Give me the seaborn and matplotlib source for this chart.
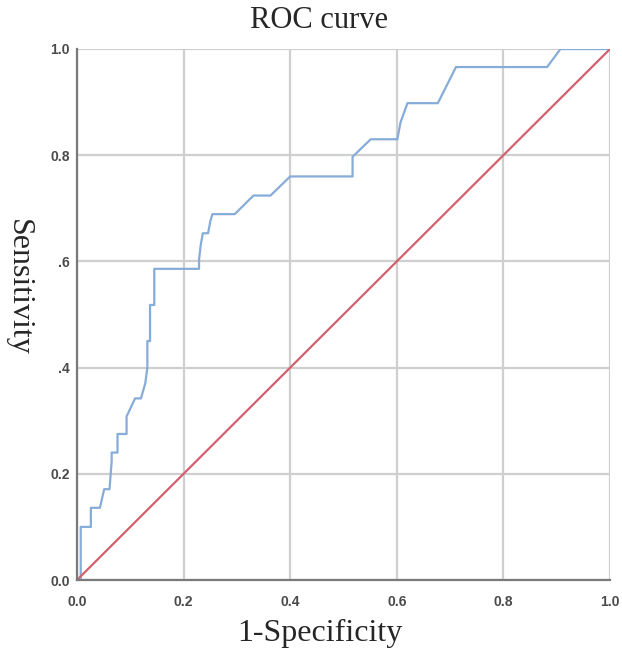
import numpy as np
import pandas as pd
import matplotlib
matplotlib.use("Agg")
import matplotlib.pyplot as plt
import seaborn as sns

# ROC curve vertices
fpr = [0.0, 0.007, 0.007, 0.026, 0.026, 0.043, 0.051, 0.061, 0.065, 0.065, 0.076, 0.076,
       0.093, 0.093, 0.109, 0.120, 0.128, 0.132, 0.132, 0.137, 0.137, 0.145, 0.145,
       0.229, 0.229, 0.232, 0.236, 0.246, 0.250, 0.254, 0.296, 0.331, 0.363, 0.400,
       0.517, 0.517, 0.551, 0.601, 0.607, 0.620, 0.677, 0.711, 0.882, 0.907, 1.0]
tpr = [0.0, 0.0, 0.100, 0.100, 0.136, 0.136, 0.171, 0.171, 0.223, 0.240, 0.240, 0.275,
       0.275, 0.308, 0.342, 0.342, 0.370, 0.400, 0.450, 0.450, 0.518, 0.518, 0.586,
       0.586, 0.603, 0.630, 0.653, 0.653, 0.675, 0.689, 0.689, 0.724, 0.724, 0.760,
       0.760, 0.797, 0.830, 0.830, 0.862, 0.898, 0.898, 0.966, 0.966, 1.0, 1.0]
ref_line = [0.0, 1.0]
ticks = [0.0, 0.2, 0.4, 0.6, 0.8, 1.0]
xtick_labels = ["0.0", "0.2", "0.4", "0.6", "0.8", "1.0"]
ytick_labels = ["0.0", "0.2", ".4", ".6", "0.8", "1.0"]

roc = pd.DataFrame({"fpr": fpr, "tpr": tpr})

sns.set_style("white")
fig = plt.figure(figsize=(6.22, 6.53), dpi=100)
ax = fig.add_axes([77 / 622, 73 / 653, 533 / 622, 531 / 653])

sns.lineplot(data=roc, x="fpr", y="tpr", sort=False, estimator=None,
             color="#86acd8", linewidth=1.6, ax=ax)
sns.lineplot(x=ref_line, y=ref_line, color="#d2606f", linewidth=1.6, ax=ax)

ax.set_xlim(0, 1)
ax.set_ylim(0, 1)
ax.set_xticks(ticks)
ax.set_yticks(ticks)
tick_font = dict(fontsize=10, color="#4a4a4a", family="Liberation Sans", weight="bold")
ax.set_xticklabels(xtick_labels, **tick_font)
ax.set_yticklabels(ytick_labels, **tick_font)
ax.tick_params(length=0)
ax.tick_params(axis="x", pad=11)
ax.tick_params(axis="y", pad=5)
ax.grid(True, color="#cfcfcf", linewidth=1.6)
ax.set_axisbelow(True)

for side in ["top", "right"]:
    ax.spines[side].set_visible(False)
for side in ["left", "bottom"]:
    ax.spines[side].set_color("#7a7a7a")
    ax.spines[side].set_linewidth(1.6)

# titles placed as in the original export (slightly off the axes centre)
fig.text(319 / 622, 1 - 20 / 653, "ROC curve", fontsize=22, family="Liberation Serif",
         ha="center", va="center")
ax.set_xlabel("1-Specificity", fontsize=23, family="Liberation Serif")
ax.xaxis.set_label_coords((320 - 77) / 533, -(633 - 580) / 531)
ax.xaxis.label.set_va("center")
ax.set_ylabel("Sensitivity", fontsize=23, family="Liberation Serif", rotation=270)
ax.yaxis.set_label_coords((18 - 77) / 533, (580 - 287) / 531)
ax.yaxis.label.set_va("center")
ax.yaxis.label.set_ha("center")

fig.savefig("out.png", dpi=100)
